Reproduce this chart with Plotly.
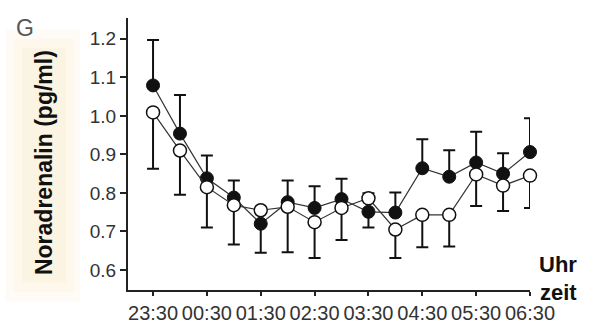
import plotly.graph_objects as go

# ---- data ----
time_labels = ["23:30", "00:30", "01:30", "02:30", "03:30", "04:30", "05:30", "06:30"]
x_idx = list(range(15))  # half-hour steps from 23:30 to 06:30
filled_vals = [1.079, 0.954, 0.838, 0.788, 0.720, 0.776, 0.761, 0.784, 0.751, 0.749, 0.864, 0.842, 0.879, 0.850, 0.906]
open_vals = [1.009, 0.910, 0.815, 0.768, 0.755, 0.764, 0.724, 0.761, 0.786, 0.705, 0.743, 0.743, 0.848, 0.819, 0.845]
filled_err_up = [0.118, 0.100, 0.059, 0.044, 0.0, 0.056, 0.056, 0.053, 0.0, 0.052, 0.075, 0.069, 0.080, 0.053, 0.088]
filled_err_down = [0.0, 0.0, 0.0, 0.0, 0.075, 0.0, 0.0, 0.0, 0.041, 0.0, 0.0, 0.0, 0.0, 0.0, 0.0]
open_err_up = [0.0, 0.0, 0.0, 0.0, 0.0, 0.0, 0.0, 0.0, 0.013, 0.0, 0.0, 0.0, 0.0, 0.0, 0.0]
open_err_down = [0.146, 0.115, 0.105, 0.102, 0.0, 0.118, 0.093, 0.083, 0.0, 0.074, 0.084, 0.082, 0.082, 0.066, 0.084]
y_ticks = [0.6, 0.7, 0.8, 0.9, 1.0, 1.1, 1.2]

# plot area in pixels
L, R, T, B = 128, 530, 18, 303
W, H = 589, 336

def px(xp):
    return (xp - L) / (R - L)

def py(yp):
    return (B - yp) / (B - T)

fig = go.Figure()

err_style = dict(type="data", symmetric=False, color="#111", thickness=2, width=6)

fig.add_trace(go.Scatter(
    x=x_idx, y=filled_vals, mode="lines+markers", cliponaxis=False,
    line=dict(color="#333", width=1.2),
    marker=dict(symbol="circle", size=13, color="#111", line=dict(color="#111", width=1)),
    error_y=dict(array=filled_err_up, arrayminus=filled_err_down, **err_style),
    showlegend=False,
))
fig.add_trace(go.Scatter(
    x=x_idx, y=open_vals, mode="lines+markers", cliponaxis=False,
    line=dict(color="#333", width=1.2),
    marker=dict(symbol="circle", size=13, color="white", line=dict(color="#111", width=1.5)),
    error_y=dict(array=open_err_up, arrayminus=open_err_down, **err_style),
    showlegend=False,
))

# faint beige glow behind the y-axis title
for (x0, x1, y0, y1, a) in [(6, 80, 30, 315, 0.12), (14, 74, 40, 305, 0.15), (22, 66, 50, 295, 0.15)]:
    fig.add_shape(type="rect", xref="paper", yref="paper",
                  x0=px(x0), x1=px(x1), y0=py(y1), y1=py(y0),
                  fillcolor=f"rgba(245,225,180,{a})", line=dict(width=0), layer="below")

fig.add_annotation(text="Noradrenalin (pg/ml)", xref="paper", yref="paper",
                   x=px(44), y=py(170), textangle=-90, showarrow=False,
                   font=dict(family="Liberation Sans, Arial", size=23, color="#111", weight="bold"),
                   xanchor="center", yanchor="middle")
fig.add_annotation(text="G", xref="paper", yref="paper", x=px(25), y=py(29),
                   showarrow=False, font=dict(family="Liberation Sans, Arial", size=23, color="#555"),
                   xanchor="center", yanchor="middle")
fig.add_annotation(text="<b>Uhr</b>", xref="paper", yref="paper", x=px(558), y=py(276),
                   showarrow=False, font=dict(family="Liberation Sans, Arial", size=22, color="#111"),
                   xanchor="center", yanchor="middle")
fig.add_annotation(text="<b>zeit</b>", xref="paper", yref="paper", x=px(558), y=py(306),
                   showarrow=False, font=dict(family="Liberation Sans, Arial", size=22, color="#111"),
                   xanchor="center", yanchor="middle")

fig.update_layout(
    width=W, height=H,
    margin=dict(l=L, r=W - R, t=T, b=H - B),
    paper_bgcolor="white", plot_bgcolor="white",
    xaxis=dict(
        range=[-0.93, 14], tickmode="array", tickvals=list(range(0, 15, 2)), ticktext=time_labels,
        showgrid=False, zeroline=False, showline=True, linecolor="#222", linewidth=2,
        ticks="outside", ticklen=4, tickwidth=2, tickcolor="#222",
        tickfont=dict(family="Liberation Sans, Arial", size=20, color="#333"),
    ),
    yaxis=dict(
        range=[0.548, 1.254], tickmode="array", tickvals=y_ticks, tickformat=".1f",
        showgrid=False, zeroline=False, showline=True, linecolor="#222", linewidth=2,
        ticks="outside", ticklen=6, tickwidth=2, tickcolor="#222",
        tickfont=dict(family="Liberation Sans, Arial", size=19, color="#333"),
    ),
)

fig.write_html("out.html")
